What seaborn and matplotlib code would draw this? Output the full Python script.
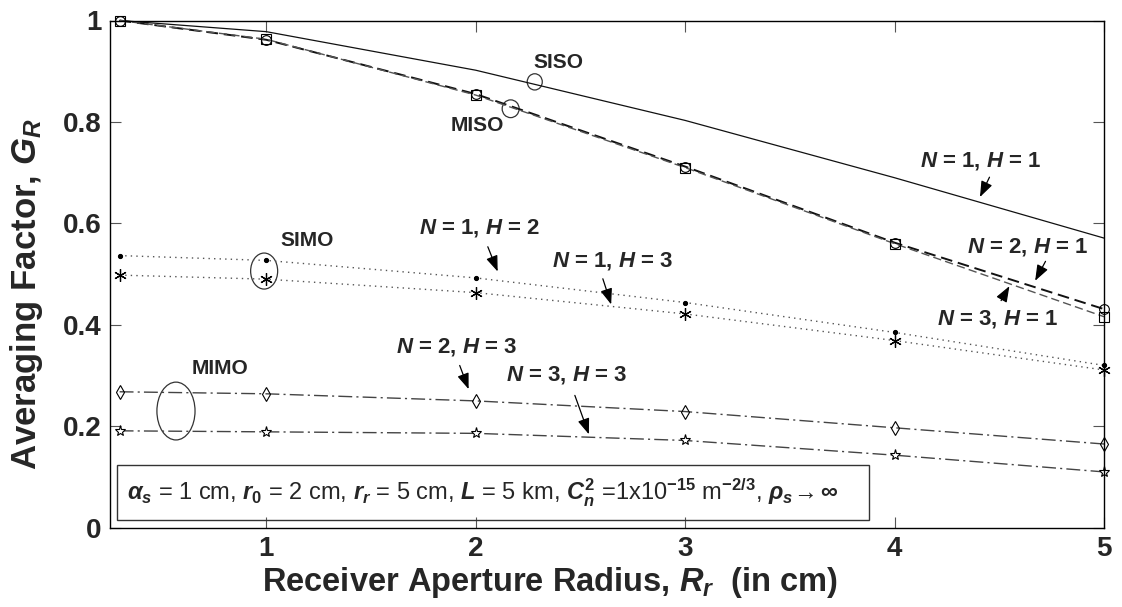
import matplotlib
matplotlib.use("Agg")
import matplotlib.pyplot as plt
import seaborn as sns
import pandas as pd
from matplotlib.patches import Ellipse, Rectangle

# ---- data ----
radius = [0.3, 1, 2, 3, 4, 5]
g_n1_h1 = [1.0, 0.978, 0.902, 0.803, 0.690, 0.571]
g_n2_h1 = [1.0, 0.962, 0.855, 0.712, 0.562, 0.431]
g_n3_h1 = [1.0, 0.963, 0.853, 0.710, 0.560, 0.416]
g_n1_h2 = [0.5365, 0.527, 0.4925, 0.444, 0.385, 0.320]
g_n1_h3 = [0.498, 0.490, 0.4635, 0.4215, 0.369, 0.311]
g_n2_h3 = [0.268, 0.264, 0.250, 0.229, 0.197, 0.165]
g_n3_h3 = [0.191, 0.189, 0.186, 0.172, 0.143, 0.110]

series_names = ["N=1,H=1", "N=2,H=1", "N=3,H=1", "N=1,H=2", "N=1,H=3", "N=2,H=3", "N=3,H=3"]
series_vals = [g_n1_h1, g_n2_h1, g_n3_h1, g_n1_h2, g_n1_h3, g_n2_h3, g_n3_h3]
x_ticks = [1, 2, 3, 4, 5]
y_ticks = [0, 0.2, 0.4, 0.6, 0.8, 1]
y_tick_labels = ["0", "0.2", "0.4", "0.6", "0.8", "1"]

styles = {
    "N=1,H=1": dict(color="#111111", linestyle="-", marker=None, lw=0.9),
    "N=2,H=1": dict(color="#111111", linestyle=(0, (6, 3)), marker="o", lw=1.4),
    "N=3,H=1": dict(color="#555555", linestyle=(0, (6, 3)), marker="s", lw=1.0),
    "N=1,H=2": dict(color="#555555", linestyle=(0, (1, 3)), marker=".", lw=1.0),
    "N=1,H=3": dict(color="#555555", linestyle=(0, (1, 3)), marker="*", lw=1.0),
    "N=2,H=3": dict(color="#444444", linestyle=(0, (10, 3, 1.5, 3)), marker="d", lw=1.0),
    "N=3,H=3": dict(color="#444444", linestyle=(0, (10, 3, 1.5, 3)), marker="*", lw=1.0),
}

sns.set_theme(style="white")
plt.rcParams["font.family"] = ["Liberation Sans", "DejaVu Sans"]
plt.rcParams["mathtext.fontset"] = "custom"
plt.rcParams["mathtext.it"] = "Liberation Sans:italic:bold"
plt.rcParams["mathtext.rm"] = "Liberation Sans:bold"
plt.rcParams["mathtext.bf"] = "Liberation Sans:bold"

fig = plt.figure(figsize=(11.22, 6.07), dpi=100)
ax = fig.add_axes([110 / 1122, 1 - 527.7 / 607, (1104 - 110) / 1122, (527.7 - 20.5) / 607])

for name, vals in zip(series_names, series_vals):
    st = styles[name]
    df = pd.DataFrame({"x": radius, "y": vals})
    mk = st["marker"]
    kw = {}
    if mk is not None:
        if mk == ".":
            kw = dict(marker="o", markersize=3, markerfacecolor="black", markeredgecolor="black")
        elif mk == "*" and name == "N=1,H=3":
            kw = dict(marker=(6, 2, 0), markersize=9, markeredgecolor="black", markeredgewidth=0.9)
        elif mk == "*":
            kw = dict(marker="*", markersize=8, markerfacecolor="white", markeredgecolor="black", markeredgewidth=0.8)
        else:
            kw = dict(marker=mk, markersize=7, markerfacecolor="none", markeredgecolor="black", markeredgewidth=0.8)
    sns.lineplot(data=df, x="x", y="y", ax=ax, color=st["color"], linestyle=st["linestyle"],
                 linewidth=st["lw"], legend=False, clip_on=False, **kw)

ax.set_xlim(0.254, 5.0)
ax.set_ylim(0, 1.0)
ax.set_xticks(x_ticks)
ax.set_xticklabels([str(t) for t in x_ticks])
ax.set_yticks(y_ticks)
ax.set_yticklabels(y_tick_labels)
ax.tick_params(direction="in", length=8, width=0.8, color="#555555", labelsize=20,
               top=True, right=True, bottom=True, left=True, pad=6)
for lab in ax.get_xticklabels() + ax.get_yticklabels():
    lab.set_fontweight("bold")
for sp in ax.spines.values():
    sp.set_color("black")
    sp.set_linewidth(1.0)

ax.set_xlabel(r"Receiver Aperture Radius, $R_r$  (in cm)", fontsize=23.5, fontweight="bold")
ax.set_ylabel(r"Averaging Factor, $G_R$", fontsize=25, fontweight="bold")
ax.xaxis.set_label_coords((550 - 110) / 994, -(565 - 527.7) / 507)
ax.yaxis.set_label_coords((45 - 110) / 994, (527.7 - 294) / 507)

# group labels and ellipses
ax.text(2.397, 0.918, "SISO", fontsize=15, fontweight="bold", ha="center", va="center")
ax.text(2.01, 0.793, "MISO", fontsize=15, fontweight="bold", ha="center", va="center")
ax.text(1.194, 0.567, "SIMO", fontsize=15, fontweight="bold", ha="center", va="center")
ax.text(0.78, 0.314, "MIMO", fontsize=15, fontweight="bold", ha="center", va="center")
for cx, cy, w, h in [(2.282, 0.879, 0.072, 0.032), (2.167, 0.826, 0.081, 0.035),
                     (0.99, 0.506, 0.129, 0.071), (0.569, 0.230, 0.182, 0.114)]:
    ax.add_patch(Ellipse((cx, cy), w, h, fill=False, edgecolor="#333333", lw=0.9))

# series annotations
ann = [
    (r"$N$ = 1, $H$ = 1", (4.411, 0.723), (4.459, 0.696), (4.402, 0.647)),
    (r"$N$ = 1, $H$ = 2", (2.019, 0.591), (2.053, 0.559), (2.110, 0.500)),
    (r"$N$ = 1, $H$ = 3", (2.656, 0.526), (2.603, 0.496), (2.651, 0.435)),
    (r"$N$ = 2, $H$ = 3", (1.909, 0.356), (1.919, 0.325), (1.971, 0.268)),
    (r"$N$ = 3, $H$ = 3", (2.435, 0.301), (2.469, 0.266), (2.545, 0.179)),
    (r"$N$ = 2, $H$ = 1", (4.636, 0.553), (4.727, 0.530), (4.665, 0.482)),
    (r"$N$ = 3, $H$ = 1", (4.493, 0.411), (4.502, 0.443), (4.555, 0.481)),
]
for txt, tpos, a0, a1 in ann:
    ax.text(tpos[0], tpos[1], txt, fontsize=16, fontweight="bold", ha="center", va="center")
    ax.annotate("", xy=a1, xytext=a0,
                arrowprops=dict(arrowstyle="-|>,head_length=0.8,head_width=0.3", color="black", lw=0.9))

# parameter box
ax.add_patch(Rectangle((0.287, 0.0152), 3.876 - 0.287, 0.124 - 0.0152, fill=False,
                       edgecolor="#333333", lw=1.0))
ax.text(0.335, 0.068,
        r"$\alpha_s$ = 1 cm, $r_0$ = 2 cm, $r_r$ = 5 cm, $L$ = 5 km, $C_n^2$ =1x10$^{-15}$ m$^{-2/3}$, $\rho_s\!\rightarrow\infty$",
        fontsize=17, ha="left", va="center")

fig.savefig("out.png", dpi=100, facecolor="white")
